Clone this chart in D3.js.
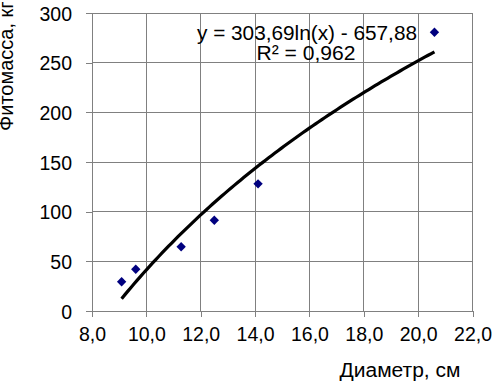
<!DOCTYPE html>
<html>
<head>
<meta charset="utf-8">
<script src="https://cdn.jsdelivr.net/npm/d3@7"></script>
<style>
  html, body { margin: 0; padding: 0; background: #fff; }
  svg { display: block; font-family: "Liberation Sans", Arial, sans-serif; }
</style>
</head>
<body>
<svg id="chart" width="492" height="384"></svg>
<script>
// Data
const diameters = [9.09, 9.61, 11.28, 12.5, 14.11, 20.6];
const phytomass = [29.5, 42, 64.7, 91.3, 128, 280.6];
const xTicks = [8, 10, 12, 14, 16, 18, 20, 22];
const yTicks = [0, 50, 100, 150, 200, 250, 300];
const trendCoef = [303.69, -657.88]; // y = a ln(x) + b
const trendLabel = "y = 303,69ln(x) - 657,88";
const r2Label = "R² = 0,962";
const xTitle = "Диаметр, см";
const yTitle = "Фитомасса, кг";

(function () {
const svg = d3.select("#chart");
const pL = 92, pR = 472.5, pT = 13, pB = 311;

const x = d3.scaleLinear().domain([8, 22]).range([pL, pR]);
const y = d3.scaleLinear().domain([0, 300]).range([pB, pT]);
const fmt = d => d3.format(".1f")(d).replace(".", ",");

// gridlines
const grid = svg.append("g").attr("stroke", "#808080").attr("stroke-width", 1).attr("shape-rendering", "crispEdges");
grid.selectAll(".gx").data(xTicks.slice(1)).enter().append("line")
  .attr("x1", d => x(d)).attr("x2", d => x(d)).attr("y1", pT).attr("y2", pB);
grid.selectAll(".gy").data(yTicks.slice(1)).enter().append("line")
  .attr("x1", pL).attr("x2", pR).attr("y1", d => y(d)).attr("y2", d => y(d));

// axes
const xAxis = d3.axisBottom(x).tickValues(xTicks).tickFormat(fmt).tickSize(6).tickPadding(10);
const yAxis = d3.axisLeft(y).tickValues(yTicks).tickFormat(d3.format("d")).tickSize(6).tickPadding(14);

const gx = svg.append("g").attr("transform", `translate(0,${pB})`).call(xAxis);
const gy = svg.append("g").attr("transform", `translate(${pL},0)`).call(yAxis);
[gx, gy].forEach(g => {
  g.select(".domain").attr("stroke", "#808080").attr("shape-rendering", "crispEdges");
  g.selectAll(".tick line").attr("stroke", "#808080").attr("shape-rendering", "crispEdges");
  g.selectAll(".tick text").attr("fill", "#000").attr("font-size", 19.5)
    .attr("font-family", "Liberation Sans, Arial, sans-serif");
});
gy.selectAll(".tick text").attr("dy", "0.36em");

// trend line
const xs = d3.range(0, 101).map(i => diameters[0] + (diameters[diameters.length - 1] - diameters[0]) * i / 100);
const line = d3.line().x(d => x(d)).y(d => y(trendCoef[0] * Math.log(d) + trendCoef[1]));
svg.append("path").datum(xs).attr("d", line)
  .attr("fill", "none").attr("stroke", "#000").attr("stroke-width", 3.2);

// points
svg.append("g").selectAll("path").data(diameters).enter().append("path")
  .attr("d", d3.symbol().type(d3.symbolDiamond2).size(56))
  .attr("transform", (d, i) => `translate(${x(d)},${y(phytomass[i])})`)
  .attr("fill", "#00007f");

// trend labels
svg.append("text").attr("x", 307).attr("y", 40).attr("text-anchor", "middle")
  .attr("font-size", 20).attr("textLength", 220).attr("lengthAdjust", "spacingAndGlyphs").text(trendLabel);
svg.append("text").attr("x", 306).attr("y", 60).attr("text-anchor", "middle")
  .attr("font-size", 20).attr("textLength", 99).attr("lengthAdjust", "spacingAndGlyphs").text(r2Label);

// axis titles
svg.append("text").attr("x", 400).attr("y", 377).attr("text-anchor", "middle")
  .attr("font-size", 20).attr("textLength", 121).attr("lengthAdjust", "spacingAndGlyphs").text(xTitle);
svg.append("text").attr("transform", "translate(13,131) rotate(-90)")
  .attr("text-anchor", "start").attr("font-size", 20).text(yTitle);
})();
</script>
</body>
</html>
